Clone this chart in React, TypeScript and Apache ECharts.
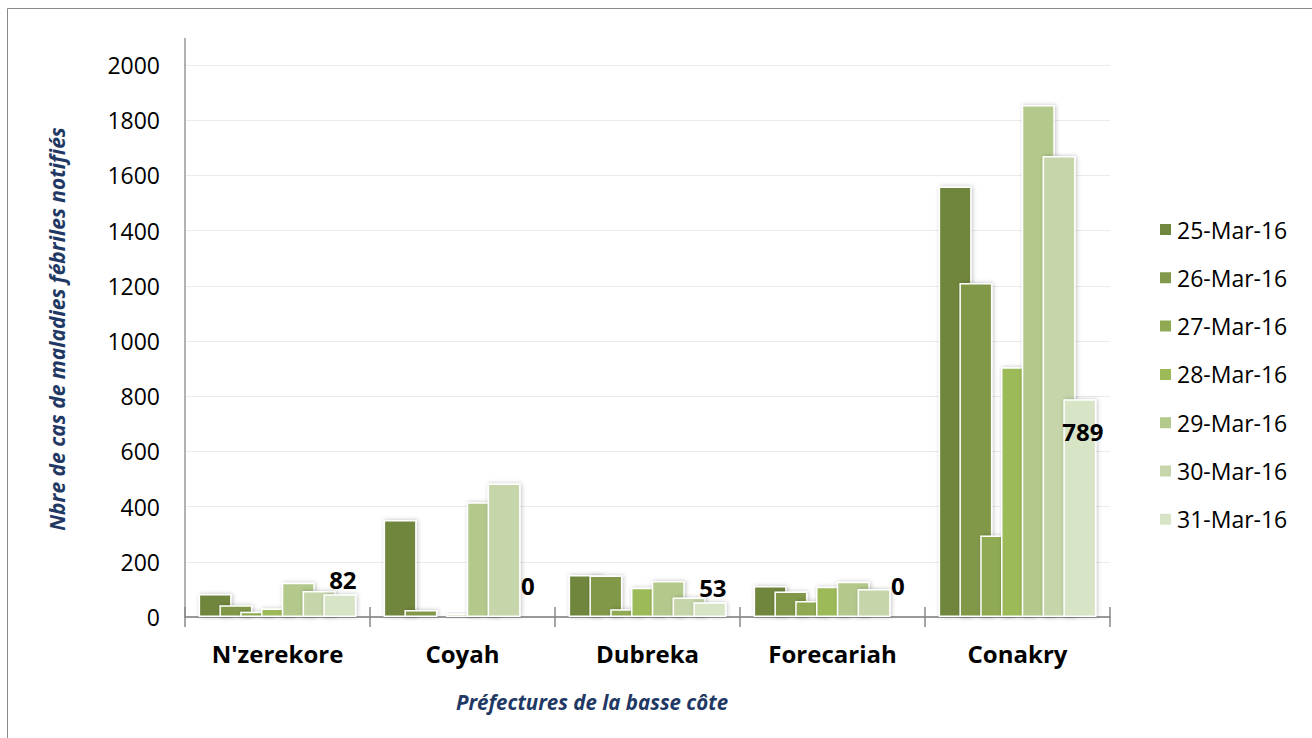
import React, { useEffect, useRef } from "react";
import * as echarts from "echarts";

const categories = ["N'zerekore", "Coyah", "Dubreka", "Forecariah", "Conakry"];
const seriesNames = ["25-Mar-16", "26-Mar-16", "27-Mar-16", "28-Mar-16", "29-Mar-16", "30-Mar-16", "31-Mar-16"];
const s25 = [83, 351, 152, 112, 1560];
const s26 = [43, 25, 150, 92, 1210];
const s27 = [19, 0, 28, 58, 295];
const s28 = [31, 12, 106, 110, 905];
const s29 = [124, 416, 130, 128, 1855];
const s30 = [94, 484, 71, 101, 1670];
const s31 = [82, 0, 53, 0, 789];
const seriesValues = [s25, s26, s27, s28, s29, s30, s31];
const colors = ["#71863e", "#82984a", "#8faa52", "#9dba59", "#b3c98c", "#c6d6aa", "#d8e4c6"];
const yTicks = { min: 0, max: 2000, interval: 200 };

const FONT = "'Open Sans', 'DejaVu Sans', sans-serif";

export default function App() {
  const ref = useRef<HTMLDivElement>(null);
  useEffect(() => {
    if (!ref.current) return;
    const chart = echarts.init(ref.current, null, { renderer: "svg" });
    const lastIdx = seriesValues.length - 1;
    const series = seriesValues.map((vals, i) => ({
      name: seriesNames[i],
      type: "bar",
      barWidth: 33,
      barGap: "-37%",
      itemStyle: {
        color: colors[i],
        borderColor: "#ffffff",
        borderWidth: 1.5,
        shadowBlur: 4,
        shadowOffsetX: 1,
        shadowColor: "rgba(0,0,0,0.25)",
      },
      data:
        i === lastIdx
          ? vals.map((v, j) => {
              if (j === vals.length - 1) {
                return { value: v, label: { position: "insideTop", distance: 20 } };
              }
              if (v === 0) {
                return { value: v, label: { distance: 19 } };
              }
              return { value: v };
            })
          : vals,
      label:
        i === lastIdx
          ? {
              show: true,
              position: "top",
              distance: 3,
              offset: [3, 0],
              fontFamily: FONT,
              fontSize: 24,
              fontWeight: "bold",
              color: "#000000",
            }
          : { show: false },
    }));

    chart.setOption({
      animation: false,
      backgroundColor: "#ffffff",
      grid: { left: 185, right: 202, top: 65, bottom: 121, containLabel: false },
      legend: {
        orient: "vertical",
        left: 1153,
        top: 213,
        itemWidth: 13,
        itemHeight: 13,
        itemGap: 25.3,
        icon: "rect",
        data: seriesNames,
        textStyle: { fontFamily: FONT, fontSize: 23, color: "#000000" },
      },
      xAxis: [
        {
          type: "category",
          data: categories,
          position: "bottom",
          axisLine: { show: true, lineStyle: { color: "#999999", width: 2 } },
          axisTick: { show: true, length: 10, lineStyle: { color: "#888888", width: 1.5 } },
          axisLabel: {
            margin: 24,
            fontFamily: FONT,
            fontSize: 24,
            fontWeight: "bold",
            color: "#000000",
          },
          splitLine: { show: false },
        },
        {
          type: "category",
          data: categories,
          position: "bottom",
          axisLine: { show: false },
          axisTick: { show: true, inside: true, length: 10, lineStyle: { color: "#888888", width: 1.5 } },
          axisLabel: { show: false },
          splitLine: { show: false },
        },
      ],
      yAxis: {
        type: "value",
        min: yTicks.min,
        max: yTicks.max,
        interval: yTicks.interval,
        axisLine: { show: true, lineStyle: { color: "#999999", width: 1.5 } },
        axisTick: { show: false },
        axisLabel: {
          margin: 25,
          fontFamily: FONT,
          fontSize: 23,
          color: "#000000",
          formatter: (v: number) => String(v),
        },
        splitLine: { show: true, lineStyle: { color: "#ebebeb", width: 1 } },
      },
      graphic: [
        {
          type: "rect",
          silent: true,
          shape: { x: 7.5, y: 8.5, width: 1400, height: 800 },
          style: { fill: "none", stroke: "#8a8a8a", lineWidth: 1 },
        },
        {
          type: "line",
          silent: true,
          shape: { x1: 185, y1: 38, x2: 185, y2: 65 },
          style: { stroke: "#999999", lineWidth: 1.5 },
        },
        {
          type: "text",
          silent: true,
          x: 57,
          y: 329,
          rotation: Math.PI / 2,
          style: {
            text: "Nbre de cas de maladies fébriles notifiés",
            fontFamily: FONT,
            fontSize: 21,
            fontWeight: "bold",
            fontStyle: "italic",
            fill: "#1f3864",
            align: "center",
            verticalAlign: "middle",
          },
        },
        {
          type: "text",
          silent: true,
          x: 592,
          y: 702,
          style: {
            text: "Préfectures de la basse côte",
            fontFamily: FONT,
            fontSize: 20.5,
            fontWeight: "bold",
            fontStyle: "italic",
            fill: "#1f3864",
            align: "center",
            verticalAlign: "middle",
          },
        },
      ],
      series,
    });
    return () => chart.dispose();
  }, []);
  return (
    <div
      ref={ref}
      style={{ position: "fixed", left: 0, top: 0, width: 1312, height: 738 }}
    />
  );
}
